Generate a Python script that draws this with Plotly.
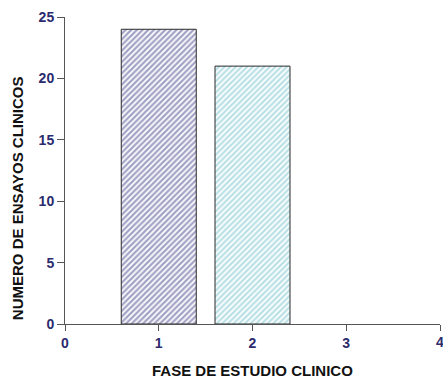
import plotly.graph_objects as go

fases = [1, 2]
ensayos = [24, 21]
bar_colors = ["#45458c", "#74c2cc"]
x_ticks = [0, 1, 2, 3, 4]
y_ticks = [0, 5, 10, 15, 20, 25]

fig = go.Figure()
fig.add_trace(go.Bar(
    x=fases, y=ensayos, width=0.8,
    marker=dict(
        color="white",
        line=dict(color="#2a2a2a", width=1),
        pattern=dict(shape="/", fgcolor=bar_colors, bgcolor="white", size=4, solidity=0.55),
    ),
))

FONT = "Liberation Sans, Arial"
tickfont = dict(family=FONT, size=14, color="#2b2b6e")
titlefont = dict(family=FONT, size=15, color="#111111")

fig.update_layout(
    width=443, height=379,
    margin=dict(l=65, r=3, t=17, b=55),
    plot_bgcolor="white", paper_bgcolor="white",
    showlegend=False,
    xaxis=dict(
        range=[0, 4], tickvals=x_ticks, ticktext=[f"<b>{v}</b>" for v in x_ticks],
        ticks="outside", ticklen=6, tickcolor="#555555",
        showline=True, linecolor="#555555", linewidth=1, showgrid=False, zeroline=False,
        tickfont=tickfont,
    ),
    yaxis=dict(
        range=[0, 25], tickvals=y_ticks, ticktext=[f"<b>{v}</b>" for v in y_ticks],
        ticks="outside", ticklen=7, tickcolor="#555555",
        showline=True, linecolor="#555555", linewidth=1, showgrid=False, zeroline=False,
        tickfont=tickfont,
    ),
    annotations=[
        dict(text="<b>4</b>", x=x_ticks[-1], xref="x", y=0, yref="paper",
             yanchor="top", xanchor="center", yshift=-8, showarrow=False, font=tickfont),
        dict(text="<b>FASE DE ESTUDIO CLINICO</b>", x=0.5, xref="paper", y=0, yref="paper",
             yanchor="top", xanchor="center", yshift=-36, showarrow=False, font=titlefont),
        dict(text="<b>NUMERO DE ENSAYOS CLINICOS</b>", x=0, xref="paper", y=0.41, yref="paper",
             xanchor="center", yanchor="middle", xshift=-48, textangle=-90,
             showarrow=False, font=titlefont),
    ],
)

fig.write_html("out.html")
